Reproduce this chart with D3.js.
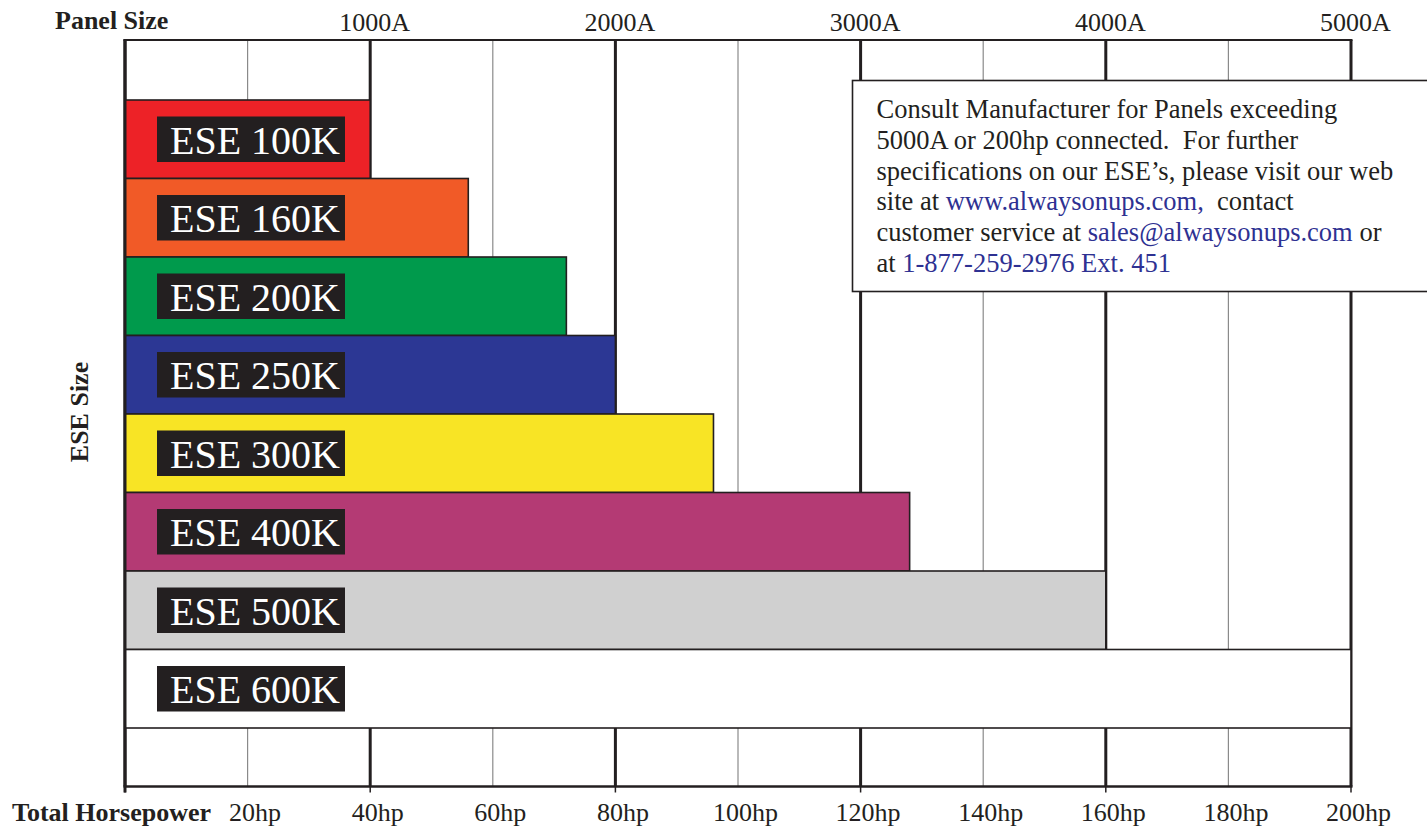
<!DOCTYPE html>
<html>
<head>
<meta charset="utf-8">
<script src="https://cdn.jsdelivr.net/npm/d3@7"></script>
<style>
  html, body { margin: 0; background: #fff; }
  svg { display: block; }
</style>
</head>
<body>
<svg id="chart" width="1427" height="827"></svg>
<script>
// ESE model sizes and the largest connected load (hp) each one covers
const categories = ["ESE 100K", "ESE 160K", "ESE 200K", "ESE 250K", "ESE 300K", "ESE 400K", "ESE 500K", "ESE 600K"];
const maxHorsepower = [40, 56, 72, 80, 96, 128, 160, 200];
const barColors = ["#ed2227", "#f15a27", "#009a4c", "#2c3794", "#f8e425", "#b43a74", "#d0d0d0", "#ffffff"];

// Axis ticks
const hpTicks = [20, 40, 60, 80, 100, 120, 140, 160, 180, 200];
const gridValues = [0, 20, 40, 60, 80, 100, 120, 140, 160, 180, 200];
const panelAmps = [1000, 2000, 3000, 4000, 5000];

// Note text, split into runs so links can be coloured
const noteLines = [
  [{ text: "Consult Manufacturer for Panels exceeding" }],
  [{ text: "5000A or 200hp connected.  For further" }],
  [{ text: "specifications on our ESE\u2019s, please visit our web" }],
  [{ text: "site at " }, { text: "www.alwaysonups.com,", link: true }, { text: "  contact" }],
  [{ text: "customer service at " }, { text: "sales@alwaysonups.com", link: true }, { text: " or" }],
  [{ text: "at " }, { text: "1-877-259-2976 Ext. 451", link: true }]
];

const ink = "#231f20";
const linkColor = "#2e3192";
const serif = "\"Liberation Serif\"";

const svg = d3.select("#chart");
const plotLeft = 125, plotRight = 1351, plotTop = 40, plotBottom = 786.5;

const x = d3.scaleLinear().domain([0, 200]).range([plotLeft, plotRight]);
const amps = d3.scaleLinear().domain([0, 5000]).range([plotLeft, plotRight]);
const y = d3.scaleBand().domain(categories).range([100, 728]).padding(0);

// Vertical grid: heavy lines every 40hp, light lines in between
svg.append("g").selectAll("line")
  .data(gridValues)
  .join("line")
  .attr("x1", d => x(d)).attr("x2", d => x(d))
  .attr("y1", plotTop).attr("y2", plotBottom)
  .attr("stroke", d => d % 40 === 0 ? ink : "#8a8a8a")
  .attr("stroke-width", d => d % 40 === 0 ? 3 : 1.2);

// Frame lines top and bottom
svg.append("line")
  .attr("x1", plotLeft - 1.5).attr("x2", plotRight + 1.5)
  .attr("y1", plotTop).attr("y2", plotTop)
  .attr("stroke", ink).attr("stroke-width", 2);
svg.append("line")
  .attr("x1", plotLeft - 1.5).attr("x2", plotRight + 1.5)
  .attr("y1", plotBottom).attr("y2", plotBottom)
  .attr("stroke", ink).attr("stroke-width", 2.6);

// Small ticks below the bottom line at the heavy grid positions
svg.append("g").selectAll("line")
  .data(gridValues.filter(d => d % 40 === 0))
  .join("line")
  .attr("x1", d => x(d)).attr("x2", d => x(d))
  .attr("y1", plotBottom).attr("y2", plotBottom + 6)
  .attr("stroke", ink).attr("stroke-width", 1.5);

// Bars
const rows = categories.map((c, i) => ({ name: c, hp: maxHorsepower[i], color: barColors[i] }));
svg.append("g").selectAll("rect")
  .data(rows)
  .join("rect")
  .attr("x", x(0))
  .attr("y", d => y(d.name))
  .attr("width", d => x(d.hp) - x(0))
  .attr("height", y.bandwidth())
  .attr("fill", d => d.color)
  .attr("stroke", ink)
  .attr("stroke-width", 1.6);

// Left border drawn over the bars
svg.append("line")
  .attr("x1", plotLeft).attr("x2", plotLeft)
  .attr("y1", plotTop - 1).attr("y2", plotBottom + 6)
  .attr("stroke", ink).attr("stroke-width", 3);

// Model name tags
const tags = svg.append("g").selectAll("g")
  .data(rows)
  .join("g")
  .attr("transform", d => `translate(157,${y(d.name) + y.bandwidth() / 2})`);
tags.append("rect")
  .attr("x", 0).attr("y", -22.75)
  .attr("width", 188).attr("height", 45.5)
  .attr("fill", ink);
tags.append("text")
  .attr("x", 13).attr("y", 14.5)
  .attr("fill", "#fff")
  .attr("font-family", serif)
  .attr("font-size", 40)
  .text(d => d.name);

// Top axis: panel size in amps
const topAxis = svg.append("g")
  .attr("transform", "translate(0,31)")
  .call(d3.axisTop(amps).tickValues(panelAmps).tickFormat(d => d + "A").tickSize(0).tickPadding(0));
topAxis.select(".domain").remove();
topAxis.attr("font-family", serif);
topAxis.selectAll("text")
  .attr("font-family", serif)
  .attr("font-size", 26).attr("fill", ink).attr("dx", 4).attr("dy", 0);

// Bottom axis: total horsepower
const bottomAxis = svg.append("g")
  .attr("transform", "translate(0,821)")
  .call(d3.axisBottom(x).tickValues(hpTicks).tickFormat(d => d + "hp").tickSize(0).tickPadding(0));
bottomAxis.select(".domain").remove();
bottomAxis.attr("font-family", serif);
bottomAxis.selectAll("text")
  .attr("font-family", serif)
  .attr("font-size", 26).attr("fill", ink).attr("dx", 7).attr("dy", 0);

// Axis titles
svg.append("text")
  .attr("x", 55).attr("y", 29)
  .attr("font-family", serif)
  .attr("font-size", 26).attr("font-weight", "bold").attr("fill", ink)
  .text("Panel Size");
svg.append("text")
  .attr("x", 12).attr("y", 821)
  .attr("font-family", serif)
  .attr("font-size", 26).attr("font-weight", "bold").attr("fill", ink)
  .text("Total Horsepower");
svg.append("text")
  .attr("transform", "translate(88,412) rotate(-90)")
  .attr("text-anchor", "middle")
  .attr("font-family", serif)
  .attr("font-size", 26).attr("font-weight", "bold").attr("fill", ink)
  .text("ESE Size");

// Note box
const note = svg.append("g");
note.append("rect")
  .attr("x", 852.5).attr("y", 80.5)
  .attr("width", 620).attr("height", 211)
  .attr("fill", "#fff").attr("stroke", ink).attr("stroke-width", 1.6);
note.selectAll("text")
  .data(noteLines)
  .join("text")
  .attr("x", 876.5)
  .attr("y", (d, i) => 118.3 + i * 30.7)
  .attr("font-family", serif)
  .attr("font-size", 26.5)
  .style("white-space", "pre")
  .selectAll("tspan")
  .data(d => d)
  .join("tspan")
  .attr("fill", d => d.link ? linkColor : ink)
  .text(d => d.text);
</script>
</body>
</html>
